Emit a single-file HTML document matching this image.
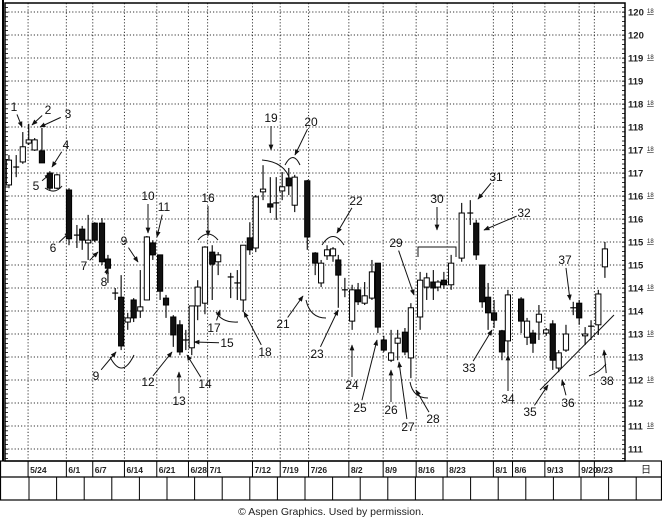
<!DOCTYPE html>
<html><head><meta charset="utf-8">
<style>
html,body{margin:0;padding:0;background:#fff;}
svg{display:block;font-family:"Liberation Sans",sans-serif;}
</style></head>
<body>
<svg id="chart" width="662" height="524" viewBox="0 0 662 524" xmlns="http://www.w3.org/2000/svg">
<defs><marker id="ah" viewBox="0 0 10 10" refX="9" refY="5" markerWidth="6" markerHeight="6" orient="auto"><path d="M0,1 L10,5 L0,9 z" fill="#111"/></marker></defs>
<rect x="0" y="0" width="662" height="524" fill="#fff"/>
<g id="grid"></g>
<g id="candles"></g>
<g id="notes"></g>
<g id="axes"></g>
<text x="331" y="515" text-anchor="middle" font-size="10.5" fill="#222">© Aspen Graphics. Used by permission.</text>
</svg>
<script>
const days = [0.9,2.0,3.0,3.9,4.8,5.9,7.1,8.2,10,11.2,12,12.9,13.9,15,15.9,17,17.9,18.9,19.8,20.8,21.8,22.7,23.8,24.7,25.8,26.8,27.7,28.6,29.5,30.6,31.7,32.6,34.5,35.5,36.4,37.4,38.3,39.4,40.5,41.4,42.3,43.3,44.2,46.1,47.3,48.2,49.1,50,50.8,51.8,52.9,53.8,54.8,55.9,56.8,57.7,58.8,59.8,60.9,61.8,63.2,64.2,65.2,65.9,66.8,67.9,69.5,70.8,71.7,72.6,73.5,74.4,75.6,76.5,78.5,79.4,80.3,81.2,82.3,83.3,84.2,85.3,86.4,87.3,88.2,89.1,90.2,91.2];
const opens = [116.74,117.13,117.24,117.65,117.50,117.48,117.0,116.67,116.63,115.65,115.78,115.48,115.91,115.91,115.13,114.39,114.30,113.76,114.24,114.0,114.24,115.48,115.22,114.28,113.87,113.70,113.37,113.2,114.11,114.17,115.28,115.07,114.74,114.61,114.24,115.59,115.37,116.59,116.33,116.35,116.61,116.89,116.30,116.83,115.26,114.61,115.20,115.20,115.11,114.46,113.78,114.46,114.17,114.28,115.04,113.37,112.93,113.30,113.54,112.98,113.87,114.52,114.63,114.52,114.67,114.57,115.15,116.13,115.91,115.0,114.30,113.96,113.57,113.35,114.26,113.43,113.52,113.76,113.52,113.72,112.76,113.15,114.07,114.17,113.46,113.67,113.70,114.96];
const highs = [117.39,117.39,117.89,118.07,117.76,117.98,117.04,116.98,116.67,115.87,115.85,116.09,115.93,116.02,115.22,114.50,114.78,113.96,114.28,114.89,115.63,115.54,115.22,114.35,113.91,113.80,113.59,114.11,114.67,115.41,115.43,115.28,114.83,114.89,115.43,115.93,116.52,117.17,116.91,116.91,117.02,117.11,116.96,116.85,115.28,115.11,115.43,115.39,115.22,114.72,114.57,114.61,114.63,115.11,115.04,113.46,113.59,113.59,113.63,114.17,114.85,114.83,114.89,114.67,114.85,115.22,116.35,116.41,115.98,115.0,114.61,114.24,113.59,114.46,114.30,113.85,113.59,114.13,113.63,113.80,113.15,113.70,114.20,114.24,113.65,113.80,114.46,115.50];
const lows = [116.67,116.91,117.20,117.61,117.48,117.22,116.63,116.65,115.43,115.37,115.33,115.11,115.50,115.0,114.61,114.24,113.15,113.59,113.76,113.85,114.24,115.11,114.24,113.85,113.22,113.04,113.15,113.04,113.80,113.93,114.24,114.78,114.28,114.24,113.98,115.22,115.28,116.41,116.13,115.98,116.41,116.52,116.15,115.33,114.78,114.52,115.11,115.07,114.07,114.30,113.59,114.13,114.13,114.24,113.52,113.11,112.89,112.93,113.04,112.54,113.59,114.24,114.24,114.43,114.48,114.46,115.07,115.87,115.11,114.07,113.59,113.63,112.93,113.04,113.52,113.26,113.09,113.37,113.46,112.72,112.67,113.11,113.91,113.70,113.26,113.37,113.48,114.72];
const closes = [117.28,117.13,117.57,117.72,117.72,117.22,116.67,116.96,115.57,115.65,115.54,115.54,115.54,115.07,114.93,114.39,113.24,113.85,113.85,114.09,115.61,115.22,114.43,114.13,113.48,113.11,113.37,114.11,114.52,115.39,115.02,115.22,114.74,114.61,115.43,115.33,116.48,116.65,116.26,116.35,116.70,116.72,116.91,115.61,115.04,115.04,115.33,115.35,114.78,114.46,114.46,114.20,114.33,114.85,113.65,113.15,113.09,113.41,113.11,114.07,114.67,114.72,114.50,114.63,114.57,115.04,116.13,116.13,115.22,114.20,113.96,113.80,113.11,114.35,113.78,113.78,113.30,113.93,113.59,112.93,113.09,113.50,114.07,113.85,113.50,113.67,114.37,115.35];
const priceTicks = [120.5,120,119.5,119,118.5,118,117.5,117,116.5,116,115.5,115,114.5,114,113.5,113,112.5,112,111.5,111];
const dateLabels = ["5/24","6/1","6/7","6/14","6/21","6/28","7/1","7/12","7/19","7/26","8/2","8/9","8/16","8/23","8/1","8/6","9/13","9/20","9/23"];
const dateDays = [3.8,9.6,13.6,18.4,23.3,28.1,31,37.8,42,46.3,52.4,57.6,62.6,67.3,74.3,77.2,82.1,87.3,89.6];
const noteLabels = ["1","2","3","4","5","6","7","8","9","9","10","11","12","13","14","15","16","17","18","19","20","21","22","23","24","25","26","27","28","29","30","31","32","33","34","35","36","37","38"];
const noteText = [[14,107],[48,110],[68,114],[66,145],[36,186],[53,248],[84,266],[104,282],[124,241],[96,376],[148,196],[164,207],[148,382],[179,401],[205,384],[227,343],[208,198],[214,328],[265,352],[271,118],[311,122],[283,324],[356,201],[317,354],[352,385],[360,408],[391,410],[408,427],[433,419],[396,243],[437,199],[496,177],[524,213],[469,368],[508,399],[530,412],[568,403],[565,260],[607,381]];
const noteTarget = [[22,127],[32,125],[40,127],[52,167],[50,174],[70,232],[98,252],[108,268],[138,262],[116,352],[148,233],[157,237],[172,352],[179,372],[187,355],[194,342],[208,236],[220,310],[244,312],[271,150],[295,155],[303,296],[337,233],[338,310],[352,345],[377,340],[391,370],[399,362],[416,390],[414,295],[437,230],[478,199],[484,230],[492,330],[508,355],[548,385],[562,380],[570,300],[604,350]];

const NS="http://www.w3.org/2000/svg";
function mk(tag,attrs,parent){const e=document.createElementNS(NS,tag);for(const k in attrs)e.setAttribute(k,attrs[k]);parent.appendChild(e);return e;}
const yS=p=>35+(120-p)*46;
const xS=d=>3+d*6.6;
const L=5,R=625,T=3,B=461;
const grid=document.getElementById('grid'),cg=document.getElementById('candles'),ng=document.getElementById('notes'),ax=document.getElementById('axes');

priceTicks.forEach(p=>{
  const y=yS(p);
  const g=mk('line',{x1:L,x2:R,y1:y,y2:y,stroke:'#333','stroke-width':1,'stroke-dasharray':'1.2 2'},grid);
  
  
  const t=mk('text',{x:R+3,y:y+3.5,'font-size':9.5,'font-weight':'bold',fill:'#222'},ax);
  
  
  t.textContent=Number.isInteger(p)?String(p):String(Math.floor(p));
  if(!Number.isInteger(p)){const u=mk('text',{x:R+22,y:y+1,'font-size':6,fill:'#222','text-decoration':'underline'},ax);u.textContent='18';
  
  }
});
dateDays.forEach((d,i)=>{
  const x=xS(d);
  const g=mk('line',{x1:x,x2:x,y1:T,y2:B,stroke:'#333','stroke-width':1,'stroke-dasharray':'1.2 2'},grid);
  
  
  mk('line',{x1:x,x2:x,y1:B,y2:477,stroke:'#000','stroke-width':1},ax);
  const t=mk('text',{x:x+2,y:473,'font-size':8.5,'font-weight':'bold',fill:'#222'},ax);
  
  
  t.textContent=dateLabels[i];
});
// frame
mk('rect',{x:L,y:T,width:R-L,height:B-T,fill:'none',stroke:'#000','stroke-width':1.5},ax);
mk('line',{x1:3,x2:3,y1:0,y2:B,stroke:'#000','stroke-width':2},ax);
for(let y=T;y<B;y+=4.6){mk('line',{x1:L,x2:L+3,y1:y,y2:y,stroke:'#000','stroke-width':0.8},ax);mk('line',{x1:R-3,x2:R,y1:y,y2:y,stroke:'#000','stroke-width':0.8},ax);}
mk('rect',{x:0.5,y:B,width:661,height:39,fill:'none',stroke:'#000','stroke-width':1.2},ax);
mk('line',{x1:0,x2:662,y1:477,y2:477,stroke:'#000','stroke-width':1.2},ax);
for(let x=29;x<662;x+=27.6){mk('line',{x1:x,x2:x,y1:477,y2:500,stroke:'#000','stroke-width':1},ax);}
const cal=mk('text',{x:641,y:473,'font-size':10,fill:'#222'},ax);cal.textContent='日';

days.forEach((d,i)=>{
  const x=xS(d),o=opens[i],c=closes[i],h=highs[i],l=lows[i];
  const g=mk('g',{},cg);
  
  
  mk('line',{x1:x,x2:x,y1:yS(h),y2:yS(l),stroke:'#000','stroke-width':1.1},g);
  const top=yS(Math.max(o,c)),bot=yS(Math.min(o,c));
  if(bot-top<1.2){mk('line',{x1:x-3,x2:x+3,y1:top,y2:top,stroke:'#000','stroke-width':1.2},g);}
  else mk('rect',{x:x-2.6,y:top,width:5.2,height:bot-top,fill:c>=o?'#fff':'#111',stroke:'#000','stroke-width':1},g);
});

noteLabels.forEach((s,i)=>{
  const [tx,ty]=noteText[i],[ex,ey]=noteTarget[i];
  const dx=ex-tx,dy=ey-ty,len=Math.hypot(dx,dy);
  const sx=tx+dx/len*8,sy=ty+dy/len*8;
  const a=mk('line',{x1:sx,y1:sy,x2:ex,y2:ey,stroke:'#111','stroke-width':1,'marker-end':'url(#ah)'},ng);
  
  
  const t=mk('text',{x:tx,y:ty+4,'text-anchor':'middle','font-size':12,fill:'#111'},ng);
  
  
  t.textContent=s;
});
// extra arcs and trend line
[["M45,188 Q55,195 62,186"],["M110,357 Q122,380 134,355"],["M198,240 Q208,228 218,240"],["M216,312 Q222,323 238,322"],["M262,160 Q285,162 290,180"],["M285,165 Q293,150 300,165"],["M306,300 Q310,318 326,318"],["M322,245 Q333,228 344,245"],["M410,382 Q413,398 428,398"],["M418,257 L418,247 L456,247 L456,257"],["M540,390 L614,315"],["M589,376 Q600,372 606,364"]].forEach(p=>{
  const e=mk('path',{d:p[0],fill:'none',stroke:'#111','stroke-width':1},ng);
  
  
});
</script>
</body></html>
